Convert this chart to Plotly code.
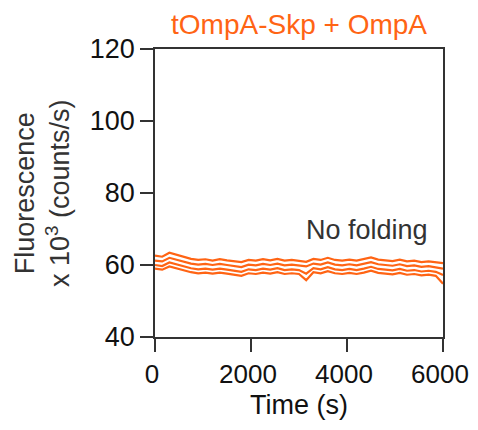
import plotly.graph_objects as go

time_s = [i * 150 for i in range(41)]

trace_a = [62.6, 62.3, 63.4, 62.8, 62.2, 61.7, 61.4, 61.6, 61.2, 61.6, 61.3, 61.0, 60.8, 61.4,
           61.2, 61.6, 61.3, 61.7, 61.2, 61.4, 61.2, 60.9, 61.7, 61.4, 62.0, 61.4, 61.2, 61.5,
           61.2, 61.6, 62.1, 61.5, 61.3, 61.1, 61.5, 61.0, 61.2, 60.8, 61.0, 60.7, 60.5]
trace_b = [61.2, 61.0, 62.0, 61.4, 60.9, 60.4, 60.1, 60.3, 60.0, 60.3, 60.0, 59.7, 59.4, 60.1,
           59.9, 60.3, 60.0, 60.4, 59.9, 60.1, 59.9, 59.6, 60.4, 60.1, 60.7, 60.1, 59.9, 60.2,
           59.9, 60.3, 60.8, 60.2, 60.0, 59.8, 60.2, 59.7, 59.9, 59.5, 59.7, 59.4, 59.0]
trace_c = [60.0, 59.7, 60.7, 60.1, 59.6, 59.1, 58.8, 59.0, 58.7, 59.0, 58.7, 58.4, 58.1, 58.8,
           58.6, 59.0, 58.7, 59.1, 58.6, 58.8, 58.6, 57.6, 59.1, 58.8, 59.4, 58.8, 58.6, 58.9,
           58.6, 59.0, 59.5, 58.9, 58.7, 58.5, 58.9, 58.4, 58.6, 58.2, 58.4, 58.1, 57.2]
trace_d = [59.0, 58.7, 59.6, 59.0, 58.5, 58.0, 57.7, 57.9, 57.6, 57.9, 57.6, 57.3, 57.0, 57.7,
           57.5, 57.9, 57.6, 58.0, 57.5, 57.7, 57.5, 55.8, 58.0, 57.7, 58.3, 57.7, 57.5, 57.8,
           57.5, 57.9, 58.4, 57.8, 57.6, 57.4, 57.8, 57.3, 57.5, 57.1, 57.3, 57.0, 54.8]

series = [trace_a, trace_b, trace_c, trace_d]

x_ticks = [0, 2000, 4000, 6000]
y_ticks = [40, 60, 80, 100, 120]

ORANGE = "#FF6414"
FONT = "Liberation Sans, Arial, sans-serif"
FS = 27

fig = go.Figure()
for ys in series:
    fig.add_trace(go.Scatter(x=time_s, y=ys, mode="lines",
                             line=dict(color=ORANGE, width=2.2), showlegend=False,
                             hoverinfo="skip"))

fig.add_annotation(x=5720, y=69.8, text="No folding", showarrow=False,
                   xanchor="right", yanchor="middle",
                   font=dict(family=FONT, size=FS, color="#333333"))

fig.add_annotation(x=0, y=0.5, xref="paper", yref="paper",
                   text="Fluorescence<br>x 10<sup>3</sup> (counts/s)",
                   textangle=-90, showarrow=False, xanchor="center", yanchor="middle",
                   xshift=-113, font=dict(family=FONT, size=FS, color="#333333"))

axis_common = dict(showline=True, linecolor="#333333", linewidth=1.5, mirror=True,
                   ticks="outside", ticklen=13, tickwidth=1.5, tickcolor="#333333",
                   showgrid=False, zeroline=False, automargin=False)

fig.update_layout(
    width=470, height=414,
    margin=dict(l=147, r=35, t=41, b=85, autoexpand=False),
    paper_bgcolor="white", plot_bgcolor="white",
    title=dict(text="tOmpA-Skp + OmpA", x=0.5, xanchor="center",
               xref="paper", yref="container",
               y=1 - 16 / 414, yanchor="middle",
               font=dict(family=FONT, size=28, color=ORANGE)),
    xaxis=dict(range=[0, 6000], tickvals=x_ticks, ticktext=[str(v) for v in x_ticks],
               tickfont=dict(family=FONT, size=26, color="#111111"), ticklabelshift=-3,
               title=dict(text="Time (s)", font=dict(family=FONT, size=FS, color="#111111"),
                          standoff=7),
               **axis_common),
    yaxis=dict(range=[40, 120], tickvals=y_ticks, ticktext=[str(v) for v in y_ticks],
               tickfont=dict(family=FONT, size=FS, color="#111111"),
               **axis_common),
)

fig.write_html("out.html")
